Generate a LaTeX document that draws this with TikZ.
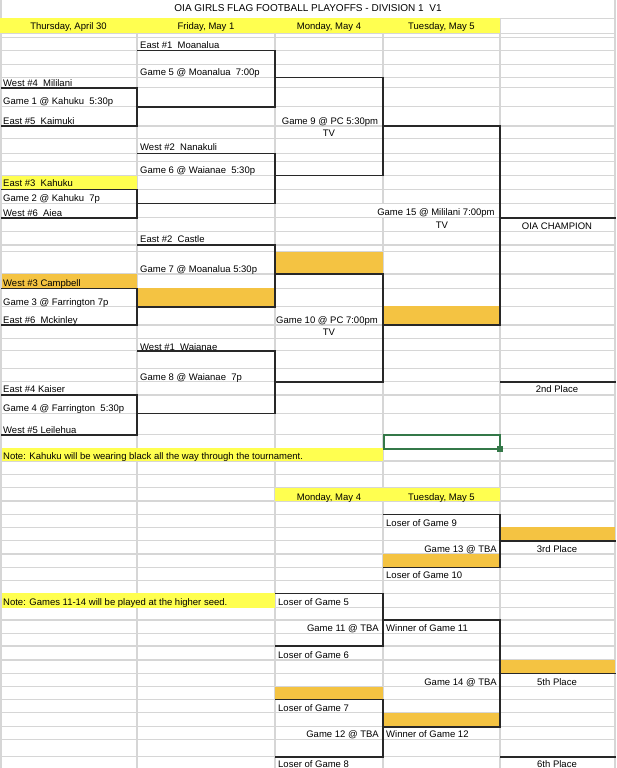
\documentclass[tikz,border=0pt]{standalone}
\usepackage{fontspec}
\setmainfont{Liberation Sans}
\definecolor{hdryellow}{RGB}{255,255,80}
\definecolor{seedorange}{RGB}{244,195,66}
\definecolor{gridgray}{RGB}{214,214,214}
\definecolor{selgreen}{RGB}{52,120,72}
\definecolor{inkline}{RGB}{40,40,40}
\begin{document}
\begin{tikzpicture}[x=1pt,y=-1pt,
  gridline/.style={draw=gridgray,line width=1.2pt},
  brk/.style={draw=inkline,line width=1.6pt},
  txt/.style={inner sep=0pt,font=\fontsize{9.5}{10}\selectfont,text=black},
  lt/.style={txt,anchor=base west},
  ct/.style={txt,anchor=base},
  rt/.style={txt,anchor=base east}]
\useasboundingbox (0,0) rectangle (616,768);
\fill[white] (0,0) rectangle (616,768);
% grid
\foreach \y in {18.3,33.3,37.7,50.7,64.3,77.3,87.7,106.7,126,138.5,153.3,161.7,175.5,189.3,203.3,217.7,231.7,245,251.7,274,288.3,306.7,325,338.3,350.7,368.3,381.7,395,413.3,434.5,448.3,461,474.5,487.7,501,514.3,527.3,540.7,554,567.3,580.7,593.3,607.7,620,633.3,646,660,673.3,686.7,699.3,712.7,726.7,739.3,756.7}
  \draw[gridline] (0,\y) -- (616,\y);
\foreach \x in {137,275,383,500}
  \draw[gridline] (\x,18.3) -- (\x,768);
\draw[gridline] (1,0) -- (1,768);
\draw[gridline] (615,0) -- (615,768);
% fills
\fill[hdryellow] (0,18.3) rectangle (500,33.3);
\fill[hdryellow] (1.6,175.5) rectangle (137,189.3);
\fill[hdryellow] (1.6,448.3) rectangle (383,461);
\fill[hdryellow] (275,487.7) rectangle (500,501);
\fill[hdryellow] (1.6,593.3) rectangle (275,607.7);
\fill[seedorange] (275,251.7) rectangle (383,274);
\fill[seedorange] (1.6,274) rectangle (137,288.3);
\fill[seedorange] (137,288.3) rectangle (275,306.7);
\fill[seedorange] (383,305.7) rectangle (500,325);
\fill[seedorange] (383,554) rectangle (500,567.3);
\fill[seedorange] (500,527.3) rectangle (615,540.7);
\fill[seedorange] (500,660) rectangle (615,673.3);
\fill[seedorange] (275,686.7) rectangle (383,699.3);
\fill[seedorange] (383,712.7) rectangle (500,726.7);
\fill[white] (377,204) rectangle (389,217);
% brackets
\draw[brk] (1,87.7) -- (137,87.7) -- (137,126) -- (1,126);
\draw[brk] (137,50.7) -- (275,50.7) -- (275,106.7) -- (137,106.7);
\draw[brk] (275,77.3) -- (383,77.3) -- (383,175.5) -- (275,175.5);
\draw[brk] (137,153.3) -- (275,153.3) -- (275,203.3) -- (137,203.3);
\draw[brk] (1,189.3) -- (137,189.3) -- (137,217.7) -- (1,217.7);
\draw[brk] (383,126) -- (500,126) -- (500,325) -- (383,325);
\draw[brk] (500,217.7) -- (616,217.7);
\draw[brk] (137,245) -- (275,245) -- (275,306.7) -- (137,306.7);
\draw[brk] (1,288.3) -- (137,288.3) -- (137,325) -- (1,325);
\draw[brk] (275,274) -- (383,274) -- (383,381.7) -- (275,381.7);
\draw[brk] (137,350.7) -- (275,350.7) -- (275,413.3) -- (137,413.3);
\draw[brk] (1,395) -- (137,395) -- (137,435) -- (1,435);
\draw[brk] (500,381.7) -- (616,381.7);
\draw[brk] (383,514.3) -- (500,514.3) -- (500,567.3) -- (383,567.3);
\draw[brk] (500,540.7) -- (616,540.7);
\draw[brk] (275,593.3) -- (383,593.3) -- (383,646) -- (275,646);
\draw[brk] (383,620) -- (500,620) -- (500,726.7) -- (383,726.7);
\draw[brk] (500,673.3) -- (616,673.3);
\draw[brk] (275,699.3) -- (383,699.3) -- (383,756.7) -- (275,756.7);
\draw[brk] (500,756.7) -- (616,756.7);
% selection
\draw[selgreen,line width=2pt] (383.5,434.5) rectangle (500,448.5);
\fill[selgreen] (497,445.5) rectangle (503,451.5);
% texts
\node[ct,font=\fontsize{10}{11}\selectfont] (title) at (308,11.7) {OIA GIRLS FLAG FOOTBALL PLAYOFFS - DIVISION 1\ \ V1};
\node[ct] (h1) at (68.5,30) {Thursday, April 30};
\node[ct] (h2) at (206,30) {Friday, May 1};
\node[ct] (h3) at (329,30) {Monday, May 4};
\node[ct] (h4) at (441.5,30) {Tuesday, May 5};
\node[lt] (e1) at (140,48.7) {East \#1\ \ Moanalua};
\node[lt] (g5) at (140,75) {Game 5 @ Moanalua\ \ 7:00p};
\node[lt] (w4) at (3,86) {West \#4\ \ Mililani};
\node[lt] (g1) at (3,104.5) {Game 1 @ Kahuku\ \ 5:30p};
\node[lt] (e5) at (3,124.5) {East \#5\ \ Kaimuki};
\node[ct] (g9) at (330,124.5) {Game 9 @ PC 5:30pm};
\node[ct] (tv9) at (329,136) {TV};
\node[lt] (w2) at (140,150.8) {West \#2\ \ Nanakuli};
\node[lt] (g6) at (140,173.5) {Game 6 @ Waianae\ \ 5:30p};
\node[lt] (e3) at (3,186.2) {East \#3\ \ Kahuku};
\node[lt] (g2) at (3,201.8) {Game 2 @ Kahuku\ \ 7p};
\node[lt] (w6) at (3,216) {West \#6\ \ Aiea};
\node[ct] (g15) at (436,215.8) {Game 15 @ Mililani 7:00pm};
\node[ct] (tv15) at (442,228.5) {TV};
\node[ct] (champ) at (557,229.5) {OIA CHAMPION};
\node[lt] (e2) at (140,242.5) {East \#2\ \ Castle};
\node[lt] (g7) at (140,272.8) {Game 7 @ Moanalua 5:30p};
\node[lt] (w3) at (3,286.2) {West \#3 Campbell};
\node[lt] (g3) at (3,305.2) {Game 3 @ Farrington 7p};
\node[lt] (e6) at (3,323.5) {East \#6\ \ Mckinley};
\node[ct] (g10) at (327,323.5) {Game 10 @ PC 7:00pm};
\node[ct] (tv10) at (329,335.2) {TV};
\node[lt] (w1) at (140,350) {West \#1\ \ Waianae};
\node[lt] (g8) at (140,380) {Game 8 @ Waianae\ \ 7p};
\node[lt] (e4) at (3,392.8) {East \#4 Kaiser};
\node[ct] (second) at (557,392.8) {2nd Place};
\node[lt] (g4) at (3,411.8) {Game 4 @ Farrington\ \ 5:30p};
\node[lt] (w5) at (3,433.5) {West \#5 Leilehua};
\node[lt] (note1) at (3,459.5) {Note: Kahuku will be wearing black all the way through the tournament.};
\node[ct] (h3b) at (329,500) {Monday, May 4};
\node[ct] (h4b) at (441.5,500) {Tuesday, May 5};
\node[lt] (l9) at (386,526.2) {Loser of Game 9};
\node[rt] (g13) at (497,552.5) {Game 13 @ TBA};
\node[ct] (third) at (557,552.5) {3rd Place};
\node[lt] (l10) at (386,578.8) {Loser of Game 10};
\node[lt] (note2) at (3,605.5) {Note: Games 11-14 will be played at the higher seed.};
\node[lt] (l5) at (278,605.5) {Loser of Game 5};
\node[rt] (g11) at (379,631.8) {Game 11 @ TBA};
\node[lt] (w11) at (386,631.8) {Winner of Game 11};
\node[lt] (l6) at (278,658.5) {Loser of Game 6};
\node[rt] (g14) at (497,685.2) {Game 14 @ TBA};
\node[ct] (fifth) at (557,685.2) {5th Place};
\node[lt] (l7) at (278,711.2) {Loser of Game 7};
\node[rt] (g12) at (379,737.8) {Game 12 @ TBA};
\node[lt] (w12) at (386,737.8) {Winner of Game 12};
\node[lt] (l8) at (278,767.5) {Loser of Game 8};
\node[ct] (sixth) at (557,767.5) {6th Place};
\end{tikzpicture}
\end{document}
